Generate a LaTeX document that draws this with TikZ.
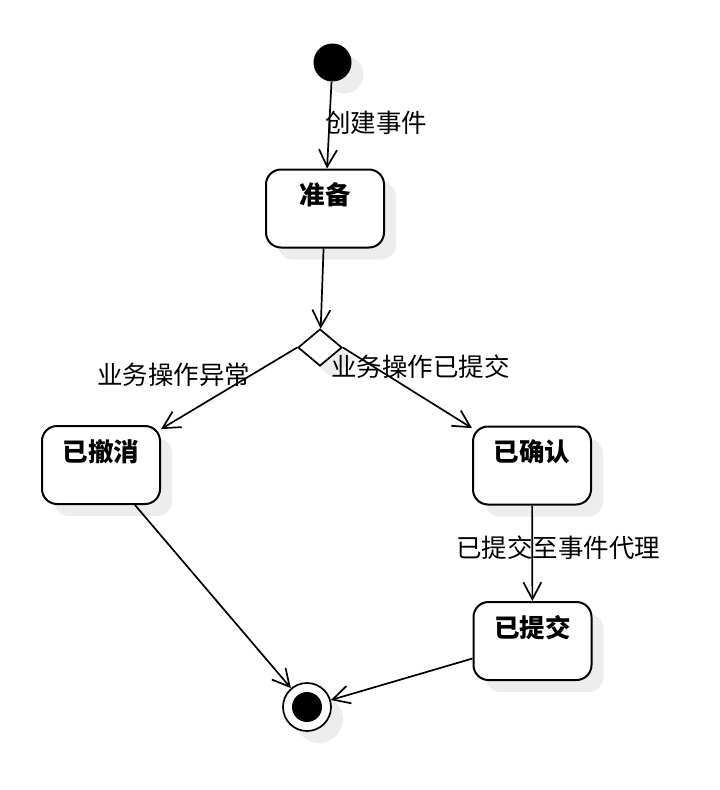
\documentclass[tikz,border=0pt]{standalone}
\usepackage{fontspec}
\newfontfamily\cjk{Noto Sans CJK SC}
\usetikzlibrary{arrows.meta,shapes.geometric,shadows}
\begin{document}
\begin{tikzpicture}[x=1pt,y=-1pt,
  font=\cjk\fontsize{25.5}{30}\selectfont,
  shadowed/.style={drop shadow={shadow xshift=12pt,shadow yshift=-12pt,fill=black!7,opacity=1}},
  statebox/.style={draw,line width=2pt,rounded corners=15pt,minimum width=118pt,minimum height=78pt,fill=white,shadowed,inner sep=0pt},
  boxtitle/.style={font=\cjk\bfseries\fontsize{25.5}{30}\selectfont,inner sep=0pt},
  lbl/.style={inner sep=0pt,anchor=west},
  trans/.style={line width=1.7pt,-{Straight Barb[length=17pt,width=18pt,line width=1.7pt]}},
]
\useasboundingbox[fill=white] (0,0) rectangle (720,790);

\node[circle,fill=black,minimum size=38pt,inner sep=0pt,shadowed] (init) at (332.5,62.5) {};
\node[statebox] (prep) at (325,208.5) {};
\node[boxtitle] (prept) at (325,195) {准备};
\node[diamond,draw,fill=white,line width=1.7pt,minimum width=44pt,minimum height=37pt,inner sep=0pt,shadowed] (dec) at (320,347.5) {};
\node[statebox] (canc) at (101,465) {};
\node[boxtitle] (canct) at (101,452) {已撤消};
\node[statebox] (conf) at (532,465.5) {};
\node[boxtitle] (conft) at (532,452) {已确认};
\node[statebox] (subm) at (532.5,641) {};
\node[boxtitle] (submt) at (532.5,628) {已提交};
\node[circle,draw,fill=white,line width=1.7pt,minimum size=48pt,inner sep=0pt,shadowed] (fin) at (307,707) {};
\node[circle,fill=black,minimum size=30pt,inner sep=0pt] (fini) at (fin) {};

\draw[trans] (init) -- (prep);
\draw[trans] (prep) -- (dec);
\draw[trans] (dec.west) -- (canc);
\draw[trans] (dec.east) -- (conf);
\draw[trans] (conf) -- (subm);
\draw[trans] (canc) -- (fin);
\draw[trans] (subm) -- (fin);

\node[lbl] (l1) at (325,123) {创建事件};
\node[lbl] (l2) at (97,375) {业务操作异常};
\node[lbl] (l3) at (331,367) {业务操作已提交};
\node[lbl] (l4) at (456,548) {已提交至事件代理};
\end{tikzpicture}
\end{document}
